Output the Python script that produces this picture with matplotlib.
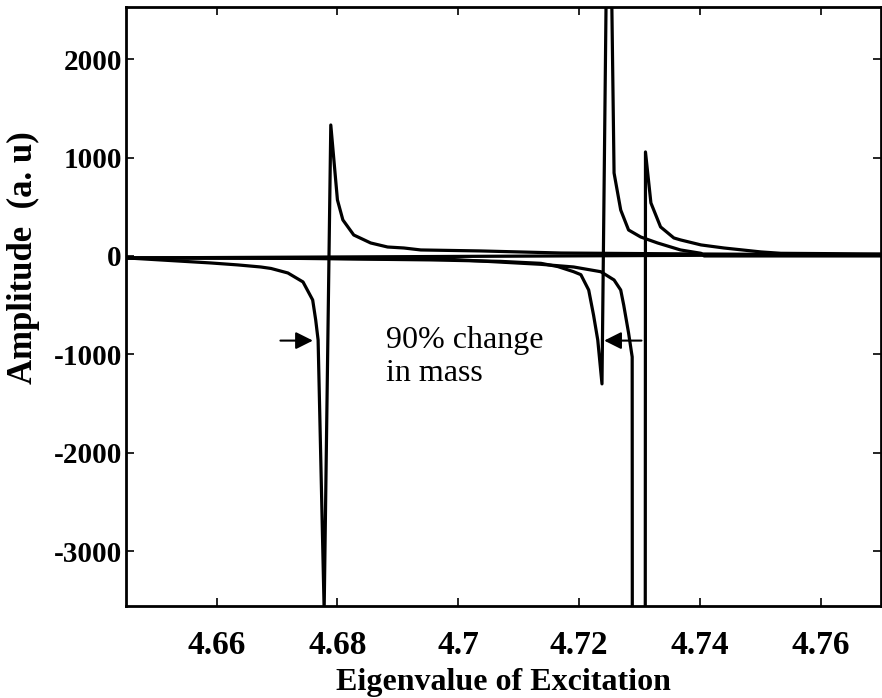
import numpy as np
import matplotlib
matplotlib.use("Agg")
import matplotlib.pyplot as plt

plt.rcParams['font.family'] = ['Liberation Serif', 'DejaVu Serif']

# three response curves (eigenvalue, amplitude)
x_a = [4.6451, 4.6590, 4.6635, 4.6673, 4.6690, 4.6718, 4.6743, 4.6759, 4.6764, 4.6768,
       4.6778, 4.6789, 4.6800, 4.6809, 4.6827, 4.6855, 4.6883, 4.6910, 4.6938, 4.7037,
       4.7170, 4.7402, 4.7701]
y_a = [-20, -71, -91, -112, -127, -173, -264, -447, -650, -854,
       -3600, 1331, 569, 366, 213, 132, 91, 81, 61, 51,
       30, 20, 10]

x_b = [4.6451, 4.6739, 4.6954, 4.7070, 4.7137, 4.7165, 4.7191, 4.7203, 4.7216, 4.7224,
       4.7231, 4.7238, 4.7249, 4.7258, 4.7269, 4.7282, 4.7302, 4.7330, 4.7368, 4.7402,
       4.7407, 4.7701]
y_b = [-20, -25, -40, -55, -75, -108, -160, -190, -346, -600,
       -854, -1300, 5000, 843, 467, 264, 193, 132, 61, 27,
       0, 0]

x_c = [4.6451, 4.6739, 4.6988, 4.7137, 4.7191, 4.7236, 4.7258, 4.7269, 4.7274, 4.7282,
       4.7288, 4.7291, 4.7307, 4.7310, 4.7319, 4.7335, 4.7357, 4.7368, 4.7402, 4.7440,
       4.7501, 4.7534, 4.7701]
y_c = [-20, -22, -35, -85, -112, -160, -244, -346, -500, -782,
       -1026, -40000, -40000, 1057, 539, 295, 183, 163, 112, 81,
       41, 27, 20]

# flat reference line
x_ref = [4.6451, 4.7701]
y_ref = [-20, 15]

x_ticks = [4.66, 4.68, 4.70, 4.72, 4.74, 4.76]
x_labels = ['4.66', '4.68', '4.7', '4.72', '4.74', '4.76']
y_ticks = [-3000, -2000, -1000, 0, 1000, 2000]

fig = plt.figure(figsize=(8.82, 6.98), dpi=100)
ax = fig.add_axes([0.1429, 0.1318, 0.8560, 0.8582])

lw = 2.3
ax.plot(x_ref, y_ref, color='black', lw=lw)
ax.plot(x_a, y_a, color='black', lw=lw)
ax.plot(x_b, y_b, color='black', lw=lw)
ax.plot(x_c, y_c, color='black', lw=lw)

ax.set_xlim(4.645, 4.770)
ax.set_ylim(-3557, 2530)

ax.set_xticks(x_ticks)
ax.set_xticklabels(x_labels, fontsize=24, fontweight='bold')
ax.set_yticks(y_ticks)
ax.set_yticklabels([str(v) for v in y_ticks], fontsize=21, fontweight='bold')
ax.tick_params(direction='in', length=6, width=1.2, top=True, right=True)
ax.tick_params(axis='x', pad=17)
ax.tick_params(axis='y', pad=3)
for s in ax.spines.values():
    s.set_linewidth(2)

ax.set_xlabel('Eigenvalue of Excitation', fontsize=23, fontweight='bold', va='top')
ax.xaxis.set_label_coords(0.5, -0.104)
ax.set_ylabel('Amplitude  (a. u)', fontsize=25, fontweight='bold')
ax.yaxis.set_label_coords(-0.114, 0.581)

# arrows pointing at the two curves
arrow = dict(arrowstyle='-|>', color='black', lw=1.5, mutation_scale=26)
ax.annotate('', xy=(4.6764, -860), xytext=(4.6701, -860), arrowprops=arrow)
ax.annotate('', xy=(4.7237, -860), xytext=(4.7308, -860), arrowprops=arrow)
ax.text(4.6880, -710, '90% change\nin mass', fontsize=23, va='top', ha='left')

fig.savefig('out.png', dpi=100)
